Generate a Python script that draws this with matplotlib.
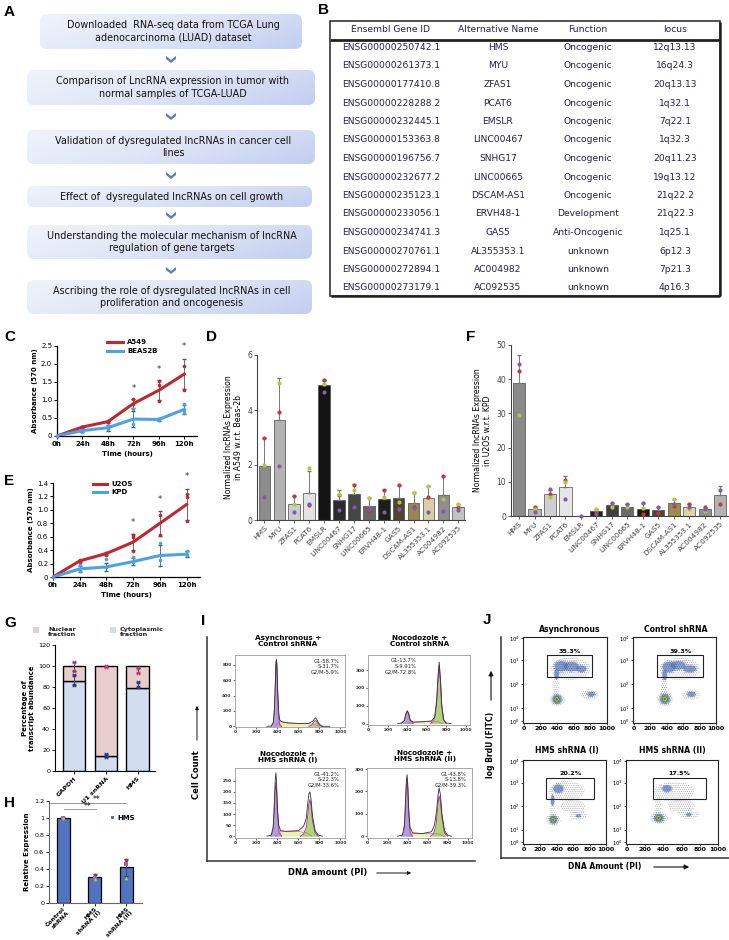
import numpy as np
import matplotlib
matplotlib.use("Agg")
import matplotlib.pyplot as plt
from matplotlib.patches import FancyBboxPatch, Rectangle, Polygon, Ellipse
from matplotlib.colors import LinearSegmentedColormap

plt.rcParams['font.family'] = ['DejaVu Sans']
plt.rcParams['hatch.linewidth'] = 0.45
W, H = 729, 940

# ======================= DATA =======================
# Panel A
flow_steps = [
    "Downloaded  RNA-seq data from TCGA Lung\nadenocarcinoma (LUAD) dataset",
    "Comparison of LncRNA expression in tumor with\nnormal samples of TCGA-LUAD",
    "Validation of dysregulated lncRNAs in cancer cell\nlines",
    "Effect of  dysregulated lncRNAs on cell growth",
    "Understanding the molecular mechanism of lncRNA\nregulation of gene targets",
    "Ascribing the role of dysregulated lncRNAs in cell\nproliferation and oncogenesis",
]

# Panel B
table_header = ["Ensembl Gene ID", "Alternative Name", "Function", "locus"]
ensembl_ids = ["ENSG00000250742.1", "ENSG00000261373.1", "ENSG00000177410.8",
               "ENSG00000228288.2", "ENSG00000232445.1", "ENSG00000153363.8",
               "ENSG00000196756.7", "ENSG00000232677.2", "ENSG00000235123.1",
               "ENSG00000233056.1", "ENSG00000234741.3", "ENSG00000270761.1",
               "ENSG00000272894.1", "ENSG00000273179.1"]
alt_names = ["HMS", "MYU", "ZFAS1", "PCAT6", "EMSLR", "LINC00467", "SNHG17",
             "LINC00665", "DSCAM-AS1", "ERVH48-1", "GAS5", "AL355353.1",
             "AC004982", "AC092535"]
functions = ["Oncogenic"] * 9 + ["Development", "Anti-Oncogenic", "unknown",
                                 "unknown", "unknown"]
loci = ["12q13.13", "16q24.3", "20q13.13", "1q32.1", "7q22.1", "1q32.3",
        "20q11.23", "19q13.12", "21q22.2", "21q22.3", "1q25.1", "6p12.3",
        "7p21.3", "4p16.3"]

# Panels C / E
time_labels = ["0h", "24h", "48h", "72h", "96h", "120h"]
a549_mean = [0.0, 0.25, 0.40, 0.90, 1.27, 1.72]
a549_err = [0.0, 0.02, 0.03, 0.13, 0.28, 0.42]
a549_pts = [[0.0], [0.26, 0.24], [0.42, 0.39], [1.02, 0.90], [1.52, 1.41, 0.97], [1.95, 1.27]]
beas2b_mean = [0.0, 0.15, 0.23, 0.47, 0.46, 0.74]
beas2b_err = [0.0, 0.05, 0.08, 0.22, 0.04, 0.12]
beas2b_pts = [[0.0], [0.18, 0.12], [0.28, 0.20], [0.74, 0.34], [0.48, 0.45], [0.88, 0.72, 0.64]]
c_star_y = [None, None, None, 1.32, 1.85, 2.48]

u2os_mean = [0.0, 0.24, 0.35, 0.52, 0.80, 1.08]
u2os_err = [0.0, 0.01, 0.02, 0.12, 0.19, 0.23]
u2os_pts = [[0.0], [0.26, 0.23], [0.36, 0.33], [0.62, 0.59, 0.39], [0.92, 0.63], [1.24, 1.19, 0.84]]
kpd_mean = [0.0, 0.12, 0.15, 0.23, 0.32, 0.34]
kpd_err = [0.0, 0.05, 0.06, 0.05, 0.15, 0.04]
kpd_pts = [[0.0], [0.18, 0.09], [0.27, 0.15], [0.30, 0.22], [0.50, 0.26], [0.39, 0.33]]
e_star_y = [None, None, None, 0.81, 1.16, 1.50]

# Panels D / F
lnc_names = ["HMS", "MYU", "ZFAS1", "PCAT6", "EMSLR", "LINC00467", "SNHG17",
             "LINC00665", "ERVH48-1", "GAS5", "DSCAM-AS1", "AL355353.1",
             "AC004982", "AC092535"]
d_mean = [1.96, 3.64, 0.58, 1.00, 4.90, 0.74, 0.95, 0.51, 0.76, 0.79, 0.63, 0.79, 0.90, 0.48]
d_err = [1.01, 1.53, 0.30, 0.80, 0.20, 0.35, 0.35, 0.31, 0.33, 0.48, 0.38, 0.46, 0.71, 0.12]
d_red = [2.97, 3.94, 0.88, 0.53, 5.09, 0.90, 1.27, 0.34, 1.08, 1.27, 0.48, 0.85, 1.61, 0.46]
d_green = [2.00, 4.97, 0.58, 1.88, 4.96, 0.95, 1.09, 0.81, 0.85, 0.64, 1.00, 1.25, 0.76, 0.58]
d_purple = [0.85, 1.96, 0.28, 0.60, 4.67, 0.36, 0.48, 0.39, 0.30, 0.41, 0.42, 0.30, 0.34, 0.38]
d_colors = ['#8c8c8c', '#b3b3b3', '#cccccc', '#e3e3e3', '#141414', '#2b2b2b', '#454545',
            '#6b6666', '#1f1f1a', '#4d4530', '#968850', '#d6cfa8', '#8e8e8e', '#c2c2c2']

nan = np.nan
f_mean = [38.8, 2.1, 6.3, 8.4, 0.0, 1.4, 3.2, 2.7, 2.1, 1.9, 3.7, 2.5, 2.0, 6.2]
f_err = [8.2, 0.6, 1.4, 3.2, 0.0, 0.7, 0.6, 0.7, 1.6, 0.7, 1.3, 0.9, 0.6, 2.5]
f_red = [42.5, 2.7, 6.3, 10.6, nan, 1.2, nan, nan, 0.5, 1.0, 2.8, 3.4, 2.6, 3.4]
f_green = [29.5, 2.1, 5.5, 9.9, nan, 2.1, 2.7, 2.5, 2.4, nan, 5.1, 2.1, 1.4, nan]
f_purple = [44.3, 1.2, 7.8, 4.9, 0.0, 0.5, 3.8, 3.4, 3.8, 2.6, 3.4, 2.5, 2.1, 7.7]
f_colors = ['#8a8a8a', '#b8b8b8', '#cfcfcf', '#e6e6e6', '#ffffff', '#222222', '#404040',
            '#6a6a6a', '#1a1a14', '#4a4535', '#9b8c4c', '#dcd6ae', '#8f8f8f', '#b3b3b3']

# Panel G
g_cats = ["GAPDH", "U1 snRNA", "HMS"]
g_cyto = [86, 14.5, 79]
g_nuc = [14, 85.5, 21]
g_nuc_pts = [[104, 95], [100, 99], [98, 93]]
g_cyto_pts = [[91, 82], [16, 13], [85, 80]]

# Panel H
h_cats = ["Control\nshRNA", "HMS\nshRNA (I)", "HMS\nshRNA (II)"]
h_vals = [1.0, 0.31, 0.42]
h_err = [0.01, 0.03, 0.10]
h_red = [1.0, 0.33, 0.51]
h_purple = [1.0, 0.30, 0.46]
h_green = [1.0, 0.28, 0.29]

# Panel I (cell-cycle histograms)
i_titles = ["Asynchronous +\nControl shRNA", "Nocodozole +\nControl shRNA",
            "Nocodozole +\nHMS shRNA (I)", "Nocodozole +\nHMS shRNA (II)"]
i_stats = ["G1-58.7%\nS-31.7%\nG2/M-5.9%", "G1-13.7%\nS-9.91%\nG2/M-72.8%",
           "G1-41.2%\nS-22.3%\nG2/M-33.6%", "G1-43.8%\nS-13.8%\nG2/M-39.3%"]
i_yticks = [[0, 200, 400, 600, 800], [0, 100, 200, 300],
            [0, 50, 100, 150, 200, 250], [0, 100, 200, 300]]
i_ytop = [925, 385, 307, 305]

h1_g1_x = [340, 360, 370, 378, 385, 390, 395, 402, 410, 420, 440]
h1_g1_y = [0, 30, 150, 430, 780, 860, 780, 430, 150, 30, 0]
h1_s_x = [380, 420, 500, 600, 700, 760, 800]
h1_s_y = [0, 60, 45, 38, 35, 20, 0]
h1_g2_x = [700, 720, 740, 755, 765, 775, 790, 810, 830]
h1_g2_y = [0, 10, 40, 70, 75, 65, 35, 8, 0]
h1_d_x = [300, 340, 360, 370, 378, 385, 390, 395, 402, 410, 420, 440, 500, 600, 700, 740, 755, 765, 775, 790, 810, 830, 900]
h1_d_y = [0, 5, 50, 200, 480, 800, 870, 800, 490, 220, 90, 60, 45, 38, 40, 70, 100, 110, 90, 50, 15, 2, 0]

h2_g1_x = [340, 370, 385, 400, 415, 430, 460]
h2_g1_y = [0, 15, 50, 70, 50, 15, 0]
h2_s_x = [400, 450, 550, 650, 720, 760]
h2_s_y = [0, 8, 10, 12, 10, 0]
h2_g2_x = [640, 670, 690, 705, 715, 728, 740, 752, 770, 800]
h2_g2_y = [0, 15, 50, 130, 230, 325, 240, 110, 25, 0]
h2_d_x = [300, 340, 370, 385, 400, 415, 430, 460, 550, 650, 680, 700, 715, 728, 742, 755, 775, 800, 850]
h2_d_y = [0, 3, 18, 55, 72, 55, 20, 8, 10, 15, 35, 120, 260, 345, 240, 100, 20, 3, 0]

h3_g1_x = [330, 355, 370, 378, 385, 392, 400, 415, 440]
h3_g1_y = [0, 15, 100, 200, 240, 200, 110, 20, 0]
h3_s_x = [380, 430, 500, 600, 680, 730]
h3_s_y = [0, 20, 22, 22, 15, 0]
h3_g2_x = [620, 650, 675, 690, 700, 710, 720, 735, 760, 790]
h3_g2_y = [0, 10, 40, 95, 145, 165, 140, 70, 15, 0]
h3_d_x = [300, 340, 360, 372, 380, 386, 392, 400, 412, 430, 480, 600, 650, 675, 690, 700, 710, 720, 735, 760, 790, 830]
h3_d_y = [0, 5, 40, 170, 260, 285, 240, 130, 50, 25, 22, 25, 45, 80, 150, 190, 200, 170, 90, 25, 5, 0]

h4_g1_x = [340, 365, 378, 388, 395, 402, 412, 425, 450]
h4_g1_y = [0, 20, 110, 220, 255, 215, 100, 20, 0]
h4_s_x = [400, 450, 550, 650, 720, 760]
h4_s_y = [0, 12, 12, 12, 10, 0]
h4_g2_x = [630, 660, 685, 700, 715, 728, 745, 770, 800]
h4_g2_y = [0, 10, 50, 120, 180, 160, 80, 15, 0]
h4_d_x = [300, 350, 370, 382, 390, 396, 403, 412, 425, 450, 550, 640, 670, 690, 705, 716, 728, 745, 770, 800, 840]
h4_d_y = [0, 5, 50, 180, 255, 275, 230, 120, 40, 15, 12, 20, 50, 110, 180, 216, 190, 100, 25, 5, 0]

# Panel J (BrdU flow plots)
j_titles = ["Asynchronous", "Control shRNA", "HMS shRNA (I)", "HMS shRNA (II)"]
j_pct = ["35.3%", "39.3%", "20.2%", "17.5%"]
j_gate_x0 = [280, 286, 274, 288]
j_gate_x1 = [825, 843, 859, 872]
j_gate_y0 = [0.54, 0.54, 0.53, 0.53]
j_gate_y1 = [0.79, 0.79, 0.79, 0.79]
j_ytick_labels = [r'$10^0$', r'$10^1$', r'$10^2$', r'$10^3$', r'$10^4$']
# cloud regions: x, y(fraction of log axis), x-radius, y-radius, density level
j1_bx = [560, 385, 790, 400, 450, 570, 690, 395, 810, 400, 398, 396, 394]
j1_by = [0.63, 0.42, 0.33, 0.27, 0.66, 0.655, 0.63, 0.57, 0.335, 0.275, 0.275, 0.275, 0.275]
j1_rx = [240, 40, 110, 95, 80, 90, 60, 28, 45, 55, 36, 22, 13]
j1_ry = [0.13, 0.13, 0.06, 0.07, 0.06, 0.055, 0.04, 0.06, 0.028, 0.055, 0.038, 0.025, 0.015]
j1_lv = [0, 0, 0, 0, 1, 1, 1, 1, 1, 1, 2, 3, 4]

j2_bx = [560, 370, 700, 380, 430, 540, 680, 375, 700, 380, 380, 378, 376]
j2_by = [0.63, 0.42, 0.33, 0.28, 0.65, 0.67, 0.63, 0.56, 0.335, 0.28, 0.28, 0.28, 0.28]
j2_rx = [250, 40, 110, 100, 80, 90, 80, 28, 50, 60, 40, 25, 14]
j2_ry = [0.13, 0.13, 0.06, 0.08, 0.06, 0.05, 0.04, 0.06, 0.03, 0.06, 0.04, 0.027, 0.016]
j2_lv = [0, 0, 0, 0, 1, 1, 1, 1, 1, 1, 2, 3, 4]

j3_bx = [520, 350, 660, 360, 600, 420, 350, 665, 360, 360, 358, 356]
j3_by = [0.63, 0.45, 0.34, 0.29, 0.45, 0.66, 0.52, 0.335, 0.29, 0.29, 0.29, 0.29]
j3_rx = [220, 35, 110, 90, 150, 60, 20, 30, 50, 34, 20, 11]
j3_ry = [0.12, 0.14, 0.05, 0.07, 0.08, 0.05, 0.06, 0.02, 0.05, 0.035, 0.022, 0.013]
j3_lv = [0, 0, 0, 0, 0, 1, 1, 1, 1, 2, 3, 4]

j4_bx = [520, 340, 680, 350, 600, 440, 680, 350, 350, 348, 346]
j4_by = [0.62, 0.45, 0.35, 0.31, 0.45, 0.66, 0.35, 0.31, 0.31, 0.31, 0.31]
j4_rx = [220, 35, 110, 100, 150, 50, 30, 55, 36, 22, 12]
j4_ry = [0.12, 0.14, 0.05, 0.07, 0.08, 0.04, 0.02, 0.05, 0.035, 0.022, 0.013]
j4_lv = [0, 0, 0, 0, 0, 1, 1, 1, 2, 3, 4]

# ======================= FIGURE =======================
fig = plt.figure(figsize=(W / 100, H / 100), dpi=100)
bg = fig.add_axes([0, 0, 1, 1])
bg.set_xlim(0, W)
bg.set_ylim(H, 0)
bg.axis('off')


def pax(x0, y0, x1, y1):
    a = fig.add_axes([x0 / W, 1 - y1 / H, (x1 - x0) / W, (y1 - y0) / H])
    a.set_facecolor('none')
    return a


def plabel(x, y, s):
    bg.text(x, y, s, fontsize=11, fontweight='bold', family='Liberation Sans',
            ha='left', va='center')


RED = '#c0282d'
BLUE = '#4aa3e8'
PT_RED = '#c0393b'
PT_GREEN = '#b3c63f'
PT_PURPLE = '#7d5bb5'

# ---------------- Panel A ----------------
plabel(4, 12, 'A')
cmap_box = LinearSegmentedColormap.from_list('bx', ['#f0f3fb', '#dfe5f6', '#c3cef0'])
boxes = [(40, 14, 302, 49), (27, 70, 315, 105), (27, 130, 315, 164),
         (27, 186, 312, 207), (27, 225, 312, 259), (27, 280, 312, 314)]
gx = np.linspace(0, 1, 80)
gy = np.linspace(0, 1, 20)
GX, GY = np.meshgrid(gx, gy)
grad = 0.75 * GX + 0.25 * GY
for (x0, y0, x1, y1), txt in zip(boxes, flow_steps):
    p = FancyBboxPatch((x0, y0), x1 - x0, y1 - y0,
                       boxstyle="round,pad=0,rounding_size=7", fc='none', ec='none')
    bg.add_patch(p)
    im = bg.imshow(grad, extent=(x0, x1, y1, y0), cmap=cmap_box, aspect='auto',
                   origin='upper', zorder=1)
    im.set_clip_path(p)
    bg.text((x0 + x1) / 2 + 2, (y0 + y1) / 2, txt, ha='center', va='center',
            fontsize=6.9, color='#111111', linespacing=1.35, zorder=2)
for cy in [59, 116, 175, 215, 270]:
    cx = 171
    pts = [(cx - 5, cy - 3), (cx, cy + 1), (cx + 5, cy - 3), (cx + 5, cy),
           (cx, cy + 4), (cx - 5, cy)]
    bg.add_patch(Polygon(pts, closed=True, fc='#5b7cc0', ec='none', zorder=2))

# ---------------- Panel B ----------------
plabel(318, 10, 'B')
bg.add_patch(Rectangle((330, 21), 390, 275, fill=False, ec='#222222', lw=1.1, zorder=2))
bg.plot([720, 720], [22, 296], color='#222222', lw=1.8, zorder=2, solid_capstyle='butt')
bg.plot([331, 720], [296, 296], color='#222222', lw=1.8, zorder=2, solid_capstyle='butt')
bg.plot([330, 720], [39.5, 39.5], color='#222222', lw=2.0, zorder=2, solid_capstyle='butt')
col_x = [391, 498, 588, 675]
TCOL = '#232048'
for cxp, h in zip(col_x, table_header):
    bg.text(cxp, 29.5, h, ha='center', va='center', fontsize=6.6, color=TCOL)
for i in range(len(ensembl_ids)):
    yy = 47.5 + 18.5 * i
    for cxp, s in zip(col_x, [ensembl_ids[i], alt_names[i], functions[i], loci[i]]):
        bg.text(cxp, yy, s, ha='center', va='center', fontsize=6.6, color=TCOL)

# ---------------- Panels C / E ----------------
def growth(ax, m1, e1, p1, m2, e2, p2, stars, ylim, yticks, ylabels):
    x = np.arange(len(time_labels))
    ax.plot(x, m1, color=RED, lw=2.2, zorder=3)
    ax.plot(x, m2, color=BLUE, lw=2.2, zorder=3)
    ax.errorbar(x, m1, yerr=e1, fmt='none', ecolor='#555555', elinewidth=0.6, capsize=1.2, zorder=2)
    ax.errorbar(x, m2, yerr=e2, fmt='none', ecolor='#555555', elinewidth=0.6, capsize=1.2, zorder=2)
    for i in range(len(x)):
        ax.scatter([x[i]] * len(p1[i]), p1[i], s=7, color=RED, zorder=4, clip_on=False, lw=0)
        ax.scatter([x[i]] * len(p2[i]), p2[i], s=7, color=BLUE, zorder=4, clip_on=False, lw=0)
        if stars[i] is not None:
            ax.text(x[i], stars[i], '*', ha='center', va='center', fontsize=6, color='#333333')
    ax.set_xlim(0, 5.5)
    ax.set_ylim(*ylim)
    ax.set_xticks(x)
    ax.set_xticklabels(time_labels, fontsize=5, fontweight='bold')
    ax.set_yticks(yticks)
    ax.set_yticklabels(ylabels, fontsize=5)
    for s in ['top', 'right']:
        ax.spines[s].set_visible(False)
    for s in ['left', 'bottom']:
        ax.spines[s].set_linewidth(0.9)
    ax.tick_params(length=2, width=0.7, pad=1.5)
    ax.set_xlabel('Time (hours)', fontsize=5, fontweight='bold', labelpad=3)
    ax.set_ylabel('Absorbance (570 nm)', fontsize=5, fontweight='bold', labelpad=2)


plabel(4, 337, 'C')
axC = pax(57, 346, 197, 436)
growth(axC, a549_mean, a549_err, a549_pts, beas2b_mean, beas2b_err, beas2b_pts, c_star_y,
       (0, 2.5), [0, 0.5, 1.0, 1.5, 2.0, 2.5], ['0', '0.5', '1.0', '1.5', '2.0', '2.5'])
bg.plot([107, 123], [342, 342], color=RED, lw=2.2)
bg.text(127, 342, 'A549', fontsize=5, fontweight='bold', va='center')
bg.plot([107, 123], [351, 351], color=BLUE, lw=2.2)
bg.text(127, 351, 'BEAS2B', fontsize=5, fontweight='bold', va='center')

plabel(4, 481, 'E')
axE = pax(53, 483, 200, 577)
growth(axE, u2os_mean, u2os_err, u2os_pts, kpd_mean, kpd_err, kpd_pts, e_star_y,
       (0, 1.4), [0, 0.2, 0.4, 0.6, 0.8, 1.0, 1.2, 1.4],
       ['0', '0.2', '0.4', '0.6', '0.8', '1.0', '1.2', '1.4'])
bg.plot([93, 107], [484, 484], color=RED, lw=2.2)
bg.text(111, 484, 'U2OS', fontsize=5, fontweight='bold', va='center')
bg.plot([93, 107], [492, 492], color=BLUE, lw=2.2)
bg.text(111, 492, 'KPD', fontsize=5, fontweight='bold', va='center')

# ---------------- Panels D / F ----------------
def lnc_bars(ax, mean, err, red, green, purple, colors, ylim, yticks, ylabel):
    x = np.arange(len(lnc_names))
    ax.bar(x, mean, width=0.78, color=colors, edgecolor='#4a4a4a', linewidth=0.5, zorder=2)
    ax.errorbar(x, mean, yerr=[np.zeros(len(x)), err], fmt='none', ecolor='#777777',
                elinewidth=0.7, capsize=1.3, zorder=3)
    ax.scatter(x, red, s=9, color=PT_RED, zorder=4, lw=0, clip_on=False)
    ax.scatter(x, green, s=9, color=PT_GREEN, zorder=4, lw=0, clip_on=False)
    ax.scatter(x, purple, s=9, color=PT_PURPLE, zorder=4, lw=0, clip_on=False)
    ax.set_ylim(*ylim)
    ax.set_yticks(yticks)
    ax.set_yticklabels([str(v) for v in yticks], fontsize=5.5, color='#333333')
    ax.set_xticks(x)
    ax.set_xticklabels(lnc_names, rotation=45, ha='right', rotation_mode='anchor',
                       fontsize=5.4, color='#222222')
    for s in ['top', 'right']:
        ax.spines[s].set_visible(False)
    for s in ['left', 'bottom']:
        ax.spines[s].set_color('#444444')
        ax.spines[s].set_linewidth(0.8)
    ax.tick_params(length=2, width=0.6, pad=1.5, colors='#444444')
    ax.set_ylabel(ylabel, fontsize=5.6, labelpad=3, linespacing=1.2)


plabel(206, 337, 'D')
axD = pax(257, 355, 465, 520)
axD.set_xlim(-0.5, 13.45)
lnc_bars(axD, d_mean, d_err, d_red, d_green, d_purple, d_colors, (0, 6), [0, 2, 4, 6],
         'Normalized lncRNAs Expression\nin A549 w.r.t. Beas-2b')

plabel(466, 337, 'F')
axF = pax(511, 345, 728, 516)
axF.set_xlim(-0.52, 13.5)
lnc_bars(axF, f_mean, f_err, f_red, f_green, f_purple, f_colors, (0, 50),
         [0, 10, 20, 30, 40, 50], 'Normalized lncRNAs Expression\nin U2OS w.r.t. KPD')

# ---------------- Panel G ----------------
plabel(4, 623, 'G')
NUC = '#e8cdcf'
CYT = '#d2ddef'
bg.add_patch(Rectangle((33, 627), 6, 6, fc=NUC, ec='none'))
bg.text(48, 632, 'Nuclear\nfraction', fontsize=4.6, fontweight='bold', va='center',
        linespacing=1.2, color='#222222')
bg.add_patch(Rectangle((110, 627), 6, 6, fc=CYT, ec='none'))
bg.text(120, 632, 'Cytoplasmic\nfraction', fontsize=4.6, fontweight='bold', va='center',
        linespacing=1.2, color='#222222')
axG = pax(55, 645, 155, 771)
xg = np.arange(len(g_cats))
axG.bar(xg, g_cyto, width=0.7, color=CYT, edgecolor='black', linewidth=1.0, zorder=2)
axG.bar(xg, g_nuc, bottom=g_cyto, width=0.7, color=NUC, edgecolor='black', linewidth=1.0, zorder=2)
for i in range(len(xg)):
    npts = g_nuc_pts[i]
    cpts = g_cyto_pts[i]
    axG.errorbar([xg[i]], [np.mean(npts)], yerr=[(max(npts) - min(npts)) / 2], fmt='none',
                 ecolor='#333333', elinewidth=0.6, capsize=1.2, zorder=3)
    axG.errorbar([xg[i]], [np.mean(cpts)], yerr=[(max(cpts) - min(cpts)) / 2], fmt='none',
                 ecolor='#333333', elinewidth=0.6, capsize=1.2, zorder=3)
    axG.scatter([xg[i]] * len(npts), npts, marker='x', s=6, color='#d6338a', lw=0.8, zorder=4, clip_on=False)
    axG.scatter([xg[i]] * len(cpts), cpts, marker='x', s=6, color='#2b3590', lw=0.8, zorder=4, clip_on=False)
axG.set_xlim(-0.6, 2.55)
axG.set_ylim(0, 120)
axG.set_yticks([0, 20, 40, 60, 80, 100, 120])
axG.set_yticklabels(['0', '20', '40', '60', '80', '100', '120'], fontsize=4.6)
axG.set_xticks(xg)
axG.set_xticklabels(g_cats, rotation=45, ha='right', rotation_mode='anchor',
                    fontsize=4.6, fontweight='bold')
for s in ['top', 'right']:
    axG.spines[s].set_visible(False)
axG.tick_params(length=2, width=0.6, pad=1.5)
axG.set_ylabel('Percentage of\ntranscript abundance', fontsize=5, fontweight='bold',
               labelpad=2, linespacing=1.2)

# ---------------- Panel H ----------------
plabel(4, 803, 'H')
HB = '#5074c0'
axH = pax(49, 801, 142, 903)
xh = np.arange(len(h_cats))
axH.bar(xh, h_vals, width=0.42, color=HB, edgecolor='black', linewidth=0.9, zorder=2)
axH.errorbar(xh, h_vals, yerr=h_err, fmt='none', ecolor='#444444', elinewidth=0.6,
             capsize=1.2, zorder=3)
axH.scatter(xh, h_red, s=7, color='#b0303a', marker='o', zorder=4, lw=0)
axH.scatter(xh, h_purple, s=6, color='#8f6bb8', marker='s', zorder=4, lw=0)
axH.scatter(xh, h_green, s=7, color='#b8c840', marker='^', zorder=4, lw=0)
axH.set_xlim(-0.45, 2.5)
axH.set_ylim(0, 1.2)
axH.set_yticks([0, 0.2, 0.4, 0.6, 0.8, 1.0, 1.2])
axH.set_yticklabels(['0', '0.2', '0.4', '0.6', '0.8', '1', '1.2'], fontsize=4.6)
axH.set_xticks(xh)
axH.set_xticklabels(h_cats, rotation=45, ha='right', rotation_mode='anchor',
                    fontsize=4.4, fontweight='bold', linespacing=1.0)
for s in ['top', 'right']:
    axH.spines[s].set_visible(False)
for s in ['left', 'bottom']:
    axH.spines[s].set_color('#666666')
axH.tick_params(axis='y', length=2, width=0.6, pad=1.5)
axH.tick_params(axis='x', length=2, width=0.6, pad=0.5)
axH.set_ylabel('Relative Expression', fontsize=5, fontweight='bold', labelpad=3)
bg.plot([50, 126], [803, 803], color='#888888', lw=0.6)
bg.text(97, 799.5, '**', ha='center', va='center', fontsize=5.5)
bg.plot([64, 96], [809, 809], color='#888888', lw=0.6)
bg.text(88, 806, '**', ha='center', va='center', fontsize=5.5)
bg.add_patch(Rectangle((111, 816), 3, 3, fc=HB, ec='none'))
bg.text(117, 818, 'HMS', fontsize=5, fontweight='bold', va='center')

# ---------------- Panel I ----------------
bg.text(203, 621, 'I', fontsize=11, fontweight='bold', family='Liberation Sans',
        ha='center', va='center')
bg.plot([207, 207], [637, 861], color='#333333', lw=1.1)
bg.plot([207, 475], [861, 861], color='#333333', lw=1.1)
bg.text(197, 775, 'Cell Count', rotation=90, ha='center', va='center', fontsize=6,
        fontweight='bold')
bg.annotate('', xy=(197, 703), xytext=(197, 743),
            arrowprops=dict(arrowstyle='-|>', color='#111111', lw=0.7, mutation_scale=5))
bg.text(328, 873, 'DNA amount (PI)', ha='center', va='center', fontsize=6, fontweight='bold')
bg.annotate('', xy=(414, 873), xytext=(374, 873),
            arrowprops=dict(arrowstyle='-|>', color='#111111', lw=0.7, mutation_scale=5))

hist_sets = [
    (h1_g1_x, h1_g1_y, h1_s_x, h1_s_y, h1_g2_x, h1_g2_y, h1_d_x, h1_d_y),
    (h2_g1_x, h2_g1_y, h2_s_x, h2_s_y, h2_g2_x, h2_g2_y, h2_d_x, h2_d_y),
    (h3_g1_x, h3_g1_y, h3_s_x, h3_s_y, h3_g2_x, h3_g2_y, h3_d_x, h3_d_y),
    (h4_g1_x, h4_g1_y, h4_s_x, h4_s_y, h4_g2_x, h4_g2_y, h4_d_x, h4_d_y),
]
i_boxes = [(235, 655, 345, 727), (368, 655, 470, 725), (235, 768, 345, 838), (367, 768, 472, 838)]
i_title_pos = [(288, 641), (420, 641), (288, 757), (425, 756)]
i_stat_pos = [(0.95, 'right'), (0.48, 'right'), (0.95, 'right'), (0.95, 'right')]
for k in range(4):
    ax = pax(*i_boxes[k])
    g1x, g1y, sx, sy, g2x, g2y, dx, dy = hist_sets[k]
    ax.fill_between(sx, sy, color='#eef0b0', lw=0, zorder=1)
    ax.fill_between(g1x, g1y, color='#a495d8', lw=0, zorder=2, alpha=0.9)
    ax.fill_between(g2x, g2y, color='#a8d06a', lw=0, zorder=2, alpha=0.9)
    ax.plot(g1x, g1y, color='#b03c96', lw=0.7, zorder=3)
    ax.plot(g2x, g2y, color='#b03c96', lw=0.7, zorder=3)
    ax.plot(sx, sy, color='#c06aa0', lw=0.5, zorder=3)
    ax.plot(dx, dy, color='#333333', lw=0.6, zorder=4)
    ax.set_xlim(-5, 1045)
    ax.set_ylim(-8, i_ytop[k])
    ax.set_xticks([0, 200, 400, 600, 800, 1000])
    ax.set_xticklabels(['0', '200', '400', '600', '800', '1000'], fontsize=3.2, fontweight='bold')
    ax.set_yticks(i_yticks[k])
    ax.set_yticklabels([str(v) for v in i_yticks[k]], fontsize=3.2, fontweight='bold')
    for s in ax.spines.values():
        s.set_color('#9a9a9a')
        s.set_linewidth(0.6)
    ax.tick_params(length=1.5, width=0.5, pad=1, colors='#333333')
    xs, ha = i_stat_pos[k]
    ax.text(xs, 0.95, i_stats[k], transform=ax.transAxes, ha=ha, va='top',
            fontsize=3.8, linespacing=1.15, color='#222222')
    tx, ty = i_title_pos[k]
    bg.text(tx, ty, i_titles[k], ha='center', va='center', fontsize=5.2,
            fontweight='bold', linespacing=1.15)

# ---------------- Panel J ----------------
bg.text(487, 620, 'J', fontsize=11, fontweight='bold', family='Liberation Sans',
        ha='center', va='center')
bg.plot([501, 501], [637, 858], color='#333333', lw=1.1)
bg.plot([501, 729], [858, 858], color='#333333', lw=1.1)
bg.text(491, 745, 'log BrdU (FITC)', rotation=90, ha='center', va='center',
        fontsize=5.5, fontweight='bold')
bg.annotate('', xy=(491, 668), xytext=(491, 703),
            arrowprops=dict(arrowstyle='-|>', color='#111111', lw=0.8, mutation_scale=7))
bg.text(605, 867, 'DNA Amount (PI)', ha='center', va='center', fontsize=5.5, fontweight='bold')
bg.annotate('', xy=(692, 867), xytext=(651, 867),
            arrowprops=dict(arrowstyle='-|>', color='#111111', lw=0.8, mutation_scale=7))

blob_sets = [(j1_bx, j1_by, j1_rx, j1_ry, j1_lv), (j2_bx, j2_by, j2_rx, j2_ry, j2_lv),
             (j3_bx, j3_by, j3_rx, j3_ry, j3_lv), (j4_bx, j4_by, j4_rx, j4_ry, j4_lv)]
lv_colors = ['#9a9a9a', '#4a6db3', '#2f9e4f', '#e3c43a', '#d8322a']
j_boxes = [(523, 637, 607, 723), (633, 637, 716, 723), (523, 760, 606, 844), (626, 760, 718, 844)]
j_title_pos = [(570, 629), (676, 629), (567, 751), (672, 751)]
for k in range(4):
    ax = pax(*j_boxes[k])
    bx, by, rx, ry, lv = blob_sets[k]
    for i in range(len(bx)):
        if lv[i] == 0:
            e = Ellipse((bx[i], by[i]), 2 * rx[i], 2 * ry[i], fc='none', ec='#a8a8a8',
                        hatch='........', lw=0, zorder=1)
        elif lv[i] == 1:
            ax.add_patch(Ellipse((bx[i], by[i]), 2.6 * rx[i], 2.6 * ry[i], fc='none',
                                 ec='#5a78b8', hatch='.........', lw=0, zorder=2))
            e = Ellipse((bx[i], by[i]), 2 * rx[i], 2 * ry[i], fc=lv_colors[1], ec='none',
                        alpha=0.6, zorder=2)
        else:
            e = Ellipse((bx[i], by[i]), 2 * rx[i], 2 * ry[i], fc=lv_colors[lv[i]], ec='none',
                        alpha=0.9, zorder=2 + lv[i])
        ax.add_patch(e)
    ax.add_patch(Rectangle((j_gate_x0[k], j_gate_y0[k]), j_gate_x1[k] - j_gate_x0[k],
                           j_gate_y1[k] - j_gate_y0[k], fill=False, ec='#222222', lw=0.8, zorder=6))
    ax.text((j_gate_x0[k] + j_gate_x1[k]) / 2, j_gate_y1[k] + 0.015, j_pct[k], ha='center',
            va='bottom', fontsize=4.6, fontweight='bold', zorder=7)
    ax.set_xlim(-10, 1000)
    ax.set_ylim(0, 1)
    ax.set_xticks([0, 200, 400, 600, 800, 1000])
    ax.set_xticklabels(['0', '200', '400', '600', '800', '1000'], fontsize=4.5, fontweight='bold')
    ax.set_yticks([0.02, 0.17, 0.45, 0.73, 0.985])
    ax.set_yticklabels(j_ytick_labels, fontsize=3.8)
    for s in ax.spines.values():
        s.set_color('#222222')
        s.set_linewidth(0.8)
    ax.tick_params(length=1.5, width=0.5, pad=1)
    tx, ty = j_title_pos[k]
    bg.text(tx, ty, j_titles[k], ha='center', va='center', fontsize=5.6, fontweight='bold')

bg.set_xlim(0, W)
bg.set_ylim(H, 0)
fig.savefig('out.png', dpi=100)
